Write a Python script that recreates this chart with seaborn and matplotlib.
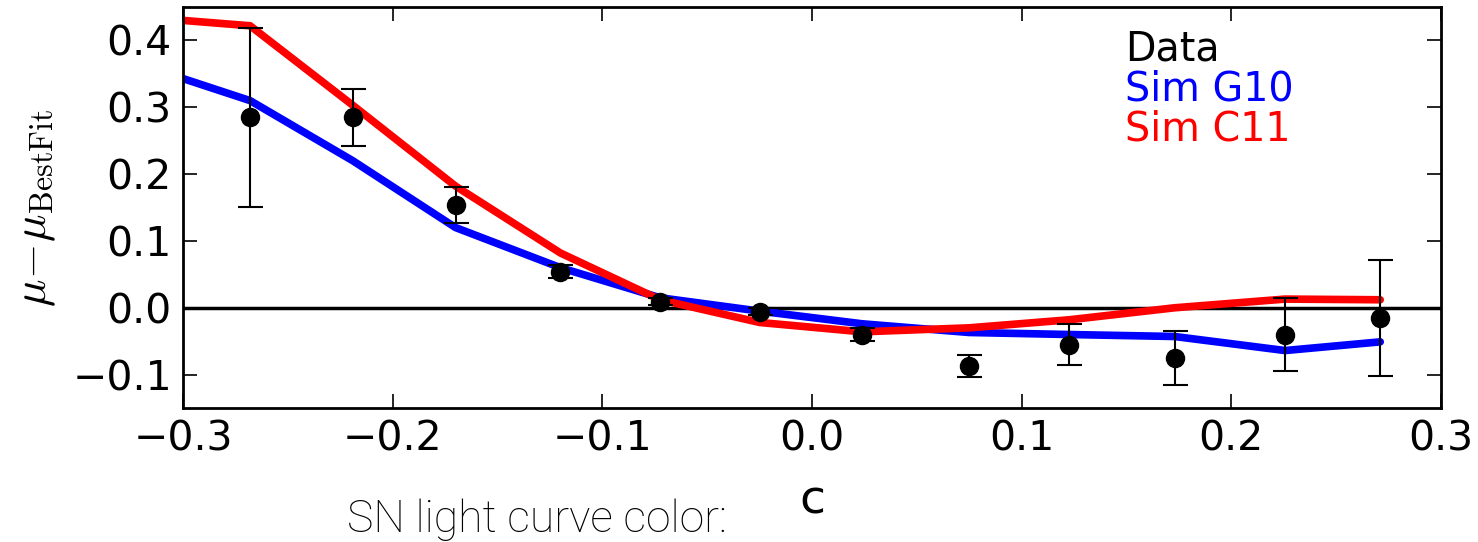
import matplotlib
matplotlib.use("Agg")
import matplotlib.pyplot as plt
import seaborn as sns
import pandas as pd
from matplotlib.lines import Line2D

# Data
data_c = [-0.268, -0.219, -0.170, -0.120, -0.0725, -0.025, 0.024, 0.075, 0.1226, 0.173, 0.2256, 0.271]
data_mu = [0.285, 0.285, 0.154, 0.054, 0.009, -0.006, -0.040, -0.087, -0.055, -0.075, -0.040, -0.015]
data_err = [0.134, 0.043, 0.027, 0.010, 0.005, 0.005, 0.010, 0.017, 0.031, 0.040, 0.055, 0.087]

sim_c = [-0.30, -0.268, -0.219, -0.170, -0.120, -0.0725, -0.025, 0.024, 0.075, 0.1226, 0.173, 0.2256, 0.271]
g10_mu = [0.343, 0.310, 0.220, 0.120, 0.060, 0.015, -0.005, -0.024, -0.037, -0.040, -0.043, -0.064, -0.051]
c11_mu = [0.430, 0.422, 0.303, 0.182, 0.082, 0.012, -0.022, -0.036, -0.030, -0.018, 0.000, 0.013, 0.012]

xticks = [-0.3, -0.2, -0.1, 0.0, 0.1, 0.2, 0.3]
xticklabels = ["\u22120.3", "\u22120.2", "\u22120.1", "0.0", "0.1", "0.2", "0.3"]
yticks = [-0.1, 0.0, 0.1, 0.2, 0.3, 0.4]
yticklabels = ["\u22120.1", "0.0", "0.1", "0.2", "0.3", "0.4"]
legend_labels = ["Data", "Sim G10", "Sim C11"]

sns.set_style("white")
plt.rcParams["mathtext.fontset"] = "cm"
plt.rcParams["font.family"] = ["DejaVu Sans"]
plt.rcParams["text.color"] = "black"
plt.rcParams["axes.labelcolor"] = "black"
plt.rcParams["xtick.color"] = "black"
plt.rcParams["ytick.color"] = "black"

fig = plt.figure(figsize=(14.78, 5.42), dpi=100)
ax = fig.add_axes([0.1238, 0.2472, 0.975 - 0.1238, 0.987 - 0.2472])

sim_df = pd.DataFrame({
    "c": sim_c * 2,
    "mu": g10_mu + c11_mu,
    "model": ["Sim G10"] * len(sim_c) + ["Sim C11"] * len(sim_c),
})

ax.axhline(0.0, color="black", lw=2.5, zorder=1)
sns.lineplot(data=sim_df, x="c", y="mu", hue="model",
             palette={"Sim G10": "#0000ff", "Sim C11": "#ff0000"},
             sort=False, lw=5.5, ax=ax, legend=False, zorder=2)
ax.errorbar(data_c, data_mu, yerr=data_err, fmt="o", color="black", ms=13, elinewidth=1.5,
            capsize=9, capthick=1.5, zorder=3)

ax.set_xlim(-0.3, 0.3)
ax.set_ylim(-0.15, 0.45)
ax.set_xticks(xticks)
ax.set_yticks(yticks)
ax.set_xticklabels(xticklabels)
ax.set_yticklabels(yticklabels)
ax.tick_params(direction="in", length=10, width=1.2, top=True, right=True, labelsize=29.5,
               pad=8, bottom=True, left=True, colors="black")
for s in ax.spines.values():
    s.set_linewidth(2)
    s.set_color("black")

ax.set_xlabel("c", fontsize=34, labelpad=14, color="black")
ax.set_ylabel(r"$\mu\!-\!\mu_{\rm BestFit}$", fontsize=33, labelpad=10, color="black")

# legend as colored text only
handles = [Line2D([], [], lw=0, marker=None) for _ in legend_labels]
leg = ax.legend(handles, legend_labels, loc="upper left",
                bbox_to_anchor=(0.7488, 0.945), frameon=False, handlelength=0,
                handletextpad=0, borderpad=0, borderaxespad=0,
                fontsize=28.5, labelspacing=0.0)
for t, col in zip(leg.get_texts(), ["black", "#0000ff", "#ff0000"]):
    t.set_color(col)

fig.text(347 / 1478, 1 - 532 / 542, "SN light curve color:", fontsize=32,
         family=["Roboto", "DejaVu Sans"], fontweight="light", color="black",
         va="baseline", ha="left")

fig.savefig("out.png", dpi=100, facecolor="white")
